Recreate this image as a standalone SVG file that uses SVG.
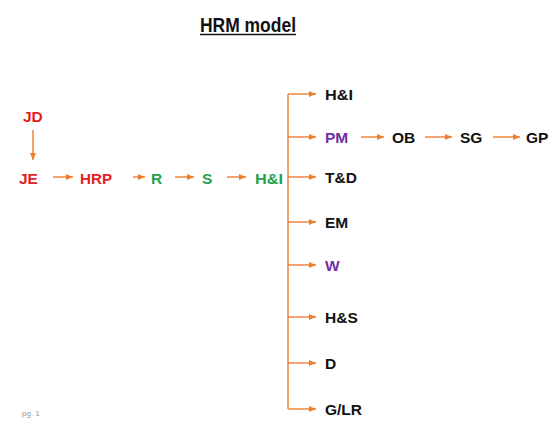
<svg xmlns="http://www.w3.org/2000/svg" width="552" height="426" viewBox="0 0 552 426">
<defs>
<marker id="ah" markerUnits="userSpaceOnUse" markerWidth="7" markerHeight="7" refX="7" refY="3.5" orient="auto">
<path d="M0,0.5 L7,3.5 L0,6.5 z" fill="#ed7d31"/>
</marker>
</defs>
<style>
text{font-family:"Liberation Sans",Arial,sans-serif;font-weight:bold;font-size:15.5px}
.red{fill:#e3211f}
.grn{fill:#1fa04a}
.pur{fill:#7030a0}
.blk{fill:#111}
.c{stroke:#ed7d31;stroke-width:1.4;fill:none}
.a{marker-end:url(#ah)}
</style>
<rect width="552" height="426" fill="#fff"/>
<g id="title">
<text x="248" y="32" text-anchor="middle" class="blk" style="font-size:20px" textLength="96" lengthAdjust="spacingAndGlyphs">HRM model</text>
<line x1="200" y1="34.5" x2="296" y2="34.5" stroke="#111" stroke-width="1.5"/>
</g>
<g id="connectors">
<line class="c a" x1="33" y1="130" x2="33" y2="160"/>
<line class="c a" x1="53" y1="177" x2="73" y2="177"/>
<line class="c a" x1="133" y1="177" x2="145" y2="177"/>
<line class="c a" x1="175" y1="177" x2="194" y2="177"/>
<line class="c a" x1="227" y1="177" x2="246" y2="177"/>
<line class="c" x1="288" y1="94" x2="288" y2="409"/>
<line class="c a" x1="288" y1="94" x2="316" y2="94"/>
<line class="c a" x1="288" y1="137" x2="316" y2="137"/>
<line class="c a" x1="288" y1="177" x2="316" y2="177"/>
<line class="c a" x1="288" y1="222" x2="316" y2="222"/>
<line class="c a" x1="288" y1="265" x2="316" y2="265"/>
<line class="c a" x1="288" y1="317" x2="316" y2="317"/>
<line class="c a" x1="288" y1="363" x2="316" y2="363"/>
<line class="c a" x1="288" y1="409" x2="316" y2="409"/>
<line class="c a" x1="361" y1="137" x2="384" y2="137"/>
<line class="c a" x1="425" y1="137" x2="452" y2="137"/>
<line class="c a" x1="493" y1="137" x2="520" y2="137"/>
</g>
<g id="JD"><text x="23" y="122" class="red">JD</text></g>
<g id="JE"><text x="19" y="184" class="red">JE</text></g>
<g id="HRP"><text x="80" y="184" class="red" textLength="32" lengthAdjust="spacingAndGlyphs">HRP</text></g>
<g id="R"><text x="151" y="184" class="grn">R</text></g>
<g id="S"><text x="202" y="184" class="grn">S</text></g>
<g id="HI-main"><text x="255" y="184" class="grn" textLength="28" lengthAdjust="spacingAndGlyphs">H&amp;I</text></g>
<g id="HI"><text x="325" y="100" class="blk" textLength="28" lengthAdjust="spacingAndGlyphs">H&amp;I</text></g>
<g id="PM"><text x="325" y="143" class="pur">PM</text></g>
<g id="OB"><text x="392" y="143" class="blk">OB</text></g>
<g id="SG"><text x="460" y="143" class="blk">SG</text></g>
<g id="GP"><text x="526" y="143" class="blk">GP</text></g>
<g id="TD"><text x="325" y="183" class="blk">T&amp;D</text></g>
<g id="EM"><text x="325" y="228" class="blk">EM</text></g>
<g id="W"><text x="325" y="271" class="pur">W</text></g>
<g id="HS"><text x="325" y="323" class="blk">H&amp;S</text></g>
<g id="D"><text x="325" y="369" class="blk">D</text></g>
<g id="GLR"><text x="325" y="415" class="blk">G/LR</text></g>
<text x="22" y="416" style="font-size:8px;font-weight:normal;fill:#8a9bb3">pg. 1</text>
</svg>
